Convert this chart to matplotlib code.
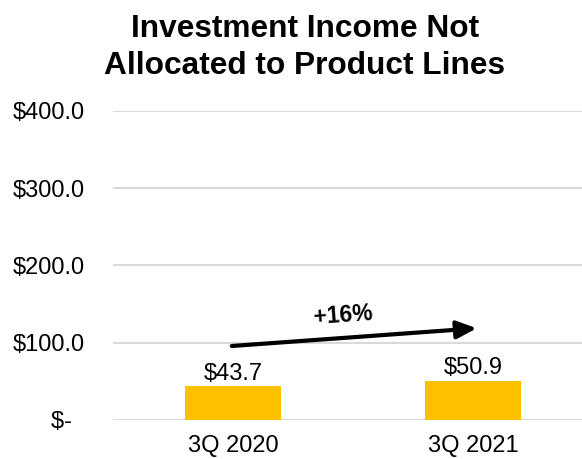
import matplotlib
matplotlib.use("Agg")
import matplotlib.pyplot as plt

categories = ["3Q 2020", "3Q 2021"]
values = [43.7, 50.9]
value_labels = ["$43.7", "$50.9"]
yticks = [0, 100, 200, 300, 400]
ytick_labels = ["$-  ", "$100.0", "$200.0", "$300.0", "$400.0"]
change_label = "+16%"
title_lines = ["Investment Income Not", "Allocated to Product Lines"]

plt.rcParams['font.family'] = ['Liberation Sans', 'DejaVu Sans']

W, H = 582, 459
fig = plt.figure(figsize=(W / 100, H / 100), dpi=100)
ax = fig.add_axes([113 / W, 39 / H, 480 / W, (420 - 110.7) / H])

x = list(range(len(categories)))
ax.bar(x, values, width=0.4, color="#FFC000", zorder=3)
ax.set_xlim(-0.5, len(categories) - 0.5)
ax.set_ylim(0, 400)

ax.set_yticks(yticks)
ax.set_yticklabels(ytick_labels, fontsize=17)
ax.set_xticks(x)
ax.set_xticklabels(categories, fontsize=17)
ax.tick_params(axis='y', length=0, pad=20)
ax.tick_params(axis='x', length=0, pad=11)
ax.grid(axis='y', color="#D9D9D9", linewidth=1.5, zorder=0)
for s in ax.spines.values():
    s.set_visible(False)

for xi, v, lab in zip(x, values, value_labels):
    ax.annotate(lab, (xi, v), xytext=(0, 4.5), textcoords='offset points',
                ha='center', va='baseline', fontsize=17)

ax.annotate('', xy=(1.015, 118.6), xytext=(-0.005, 95.7),
            arrowprops=dict(arrowstyle='-|>,head_length=0.6,head_width=0.27',
                            lw=3, color='black', shrinkA=0, shrinkB=0,
                            mutation_scale=20), zorder=5)
ax.text(0.458, 135.8, change_label, ha='center', va='center', fontsize=16.5,
        fontweight='bold', rotation=4, rotation_mode='anchor')

fig.text(305 / W, (H - 36.7) / H, title_lines[0], ha='center', va='baseline',
         fontsize=22.8, fontweight='bold')
fig.text(305 / W, (H - 74.3) / H, title_lines[1], ha='center', va='baseline',
         fontsize=22.8, fontweight='bold')

fig.savefig("out.png", dpi=100)
